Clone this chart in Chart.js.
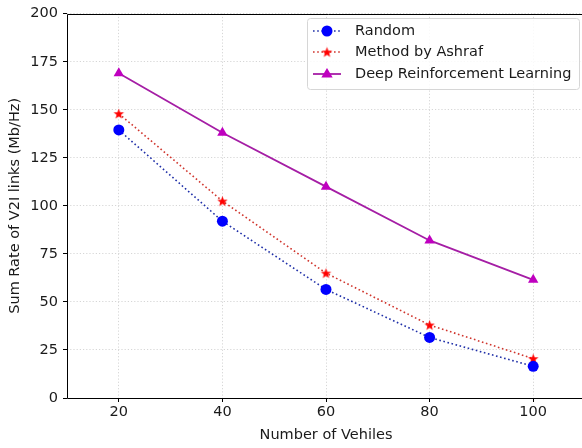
<!DOCTYPE html>
<html>
<head>
<meta charset="utf-8">
<script src="https://cdn.jsdelivr.net/npm/chart.js@4.4.0/dist/chart.umd.min.js"></script>
<style>
  html, body { margin: 0; padding: 0; overflow: hidden; background: #fff; }
  #box { width: 582px; height: 448px; overflow: hidden; }
</style>
</head>
<body>
<div id="box"><canvas id="chart" width="620" height="448"></canvas></div>
<script>
var vehicles = [20, 40, 60, 80, 100];
var randomRate = [139.5, 92, 56.5, 31.5, 16.5];
var ashrafRate = [148, 102.5, 65, 38, 20.5];
var drlRate = [169, 138, 110, 82, 61.5];
var xTicks = [20, 40, 60, 80, 100];
var seriesNames = ['Random', 'Method by Ashraf', 'Deep Reinforcement Learning'];

var FONT = "'DejaVu Sans', sans-serif";
var FSIZE = 14.5;
var TEXT = '#1a1a1a';

function toPoints(ys) {
  return vehicles.map(function(x, i) { return {x: x, y: ys[i]}; });
}

// filled 5 point star, like matplotlib '*'
function makeStar(color, r) {
  var c = document.createElement('canvas');
  var s = Math.ceil(r * 2 + 2);
  c.width = s; c.height = s;
  var g = c.getContext('2d');
  g.fillStyle = color;
  g.beginPath();
  for (var i = 0; i < 10; i++) {
    var rad = i % 2 == 0 ? r : r * 0.42;
    var a = -Math.PI / 2 + i * Math.PI / 5;
    var px = s / 2 + rad * Math.cos(a), py = s / 2 + rad * Math.sin(a) + 0.5;
    if (i == 0) g.moveTo(px, py); else g.lineTo(px, py);
  }
  g.closePath();
  g.fill();
  return c;
}
var starImg = makeStar('#ff0000', 5.5);

// left, top and bottom spines (the right one falls outside the picture)
var framePlugin = {
  id: 'frame',
  beforeDatasetsDraw: function(chart) {
    var a = chart.chartArea, ctx = chart.ctx;
    var l = Math.round(a.left) + 0.5, t = Math.round(a.top) + 0.5, b = Math.round(a.bottom) + 0.5;
    ctx.save();
    ctx.strokeStyle = '#000';
    ctx.lineWidth = 1;
    ctx.beginPath();
    ctx.moveTo(a.right + 5, t);
    ctx.lineTo(l, t);
    ctx.lineTo(l, b);
    ctx.lineTo(a.right + 5, b);
    ctx.stroke();
    ctx.restore();
  }
};

var legendPlugin = {
  id: 'boxLegend',
  afterDraw: function(chart) {
    var ctx = chart.ctx;
    var x = 307, y = 18, w = 272, h = 71, r = 3;
    ctx.save();
    ctx.fillStyle = 'rgba(255,255,255,0.85)';
    ctx.strokeStyle = '#d6d6d6';
    ctx.lineWidth = 1;
    ctx.beginPath();
    ctx.roundRect(x + 0.5, y + 0.5, w, h, r);
    ctx.fill();
    ctx.stroke();
    var rows = [31, 52, 74];
    chart.data.datasets.forEach(function(ds, i) {
      var ly = rows[i];
      ctx.save();
      ctx.strokeStyle = ds.borderColor;
      ctx.lineWidth = ds.borderWidth;
      ctx.setLineDash(ds.borderDash || []);
      ctx.beginPath();
      ctx.moveTo(313, ly);
      ctx.lineTo(341, ly);
      ctx.stroke();
      ctx.restore();
      if (ds.pointStyle == 'circle' || ds.pointStyle == 'triangle') {
        ctx.fillStyle = ds.pointBackgroundColor;
        ctx.beginPath();
        if (ds.pointStyle == 'circle') {
          ctx.arc(327, ly, ds.pointRadius, 0, Math.PI * 2);
        } else {
          var rr = ds.pointRadius;
          ctx.moveTo(327, ly - rr);
          ctx.lineTo(327 + rr * 0.95, ly + rr * 0.6);
          ctx.lineTo(327 - rr * 0.95, ly + rr * 0.6);
          ctx.closePath();
        }
        ctx.fill();
      } else {
        ctx.drawImage(ds.pointStyle, 327 - ds.pointStyle.width / 2, ly - ds.pointStyle.height / 2);
      }
      ctx.fillStyle = TEXT;
      ctx.font = FSIZE + 'px ' + FONT;
      ctx.textBaseline = 'middle';
      ctx.fillText(ds.label, 355, ly);
    });
    ctx.restore();
  }
};

var ctx = document.getElementById('chart');
var chart = new Chart(ctx, {
  type: 'line',
  data: {
    datasets: [{
      label: seriesNames[0],
      data: toPoints(randomRate),
      borderColor: '#1f2fa8',
      borderWidth: 1.6,
      borderDash: [1.6, 2.6],
      pointStyle: 'circle',
      pointRadius: 5.5,
      pointBackgroundColor: '#0000ff',
      pointBorderColor: '#0000ff',
      pointBorderWidth: 0
    }, {
      label: seriesNames[1],
      data: toPoints(ashrafRate),
      borderColor: '#d0352d',
      borderWidth: 1.6,
      borderDash: [1.6, 2.6],
      pointStyle: starImg,
      pointRadius: 5,
      pointBackgroundColor: '#ff0000',
      pointBorderColor: '#ff0000',
      pointBorderWidth: 0
    }, {
      label: seriesNames[2],
      data: toPoints(drlRate),
      borderColor: '#a51ea5',
      borderWidth: 1.8,
      pointStyle: 'triangle',
      pointRadius: 6,
      pointBackgroundColor: '#bf00bf',
      pointBorderColor: '#bf00bf',
      pointBorderWidth: 0
    }]
  },
  options: {
    responsive: false,
    animation: false,
    devicePixelRatio: 1,
    layout: { padding: { left: 0, top: 12, right: 35, bottom: 0 } },
    plugins: {
      legend: { display: false },
      tooltip: { enabled: false }
    },
    scales: {
      x: {
        type: 'linear',
        min: 10,
        max: 110,
        afterBuildTicks: function(scale) {
          scale.ticks = xTicks.map(function(v) { return {value: v}; });
        },
        afterFit: function(scale) { scale.height = 50; },
        grid: {
          color: '#cccccc',
          lineWidth: 0.8,
          tickLength: 4,
          tickColor: '#000',
          tickWidth: 1,
          tickBorderDash: []
        },
        border: { display: false, dash: [1.2, 2] },
        ticks: { color: TEXT, font: { family: FONT, size: FSIZE }, padding: 2, maxRotation: 0 },
        title: {
          display: true,
          text: 'Number of Vehiles',
          color: TEXT,
          font: { family: FONT, size: FSIZE },
          padding: { top: 0, bottom: 4 }
        }
      },
      y: {
        min: 0,
        max: 200,
        afterFit: function(scale) { scale.width = 67; },
        grid: {
          color: '#cccccc',
          lineWidth: 0.8,
          tickLength: 4,
          tickColor: '#000',
          tickWidth: 1,
          tickBorderDash: []
        },
        border: { display: false, dash: [1.2, 2] },
        ticks: { stepSize: 25, color: TEXT, font: { family: FONT, size: FSIZE }, padding: 5 },
        title: {
          display: true,
          text: 'Sum Rate of V2I links (Mb/Hz)',
          color: TEXT,
          font: { family: FONT, size: FSIZE },
          padding: { top: 7, bottom: 0 }
        }
      }
    }
  },
  plugins: [framePlugin, legendPlugin]
});
</script>
</body>
</html>
